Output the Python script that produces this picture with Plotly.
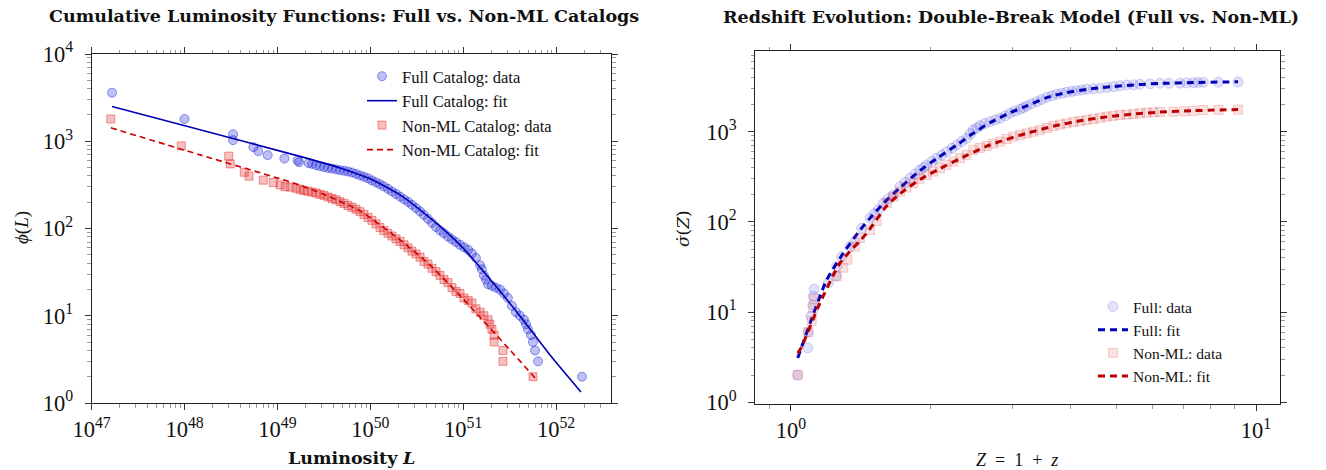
import plotly.graph_objects as go

# ---------------- Left panel data (cumulative luminosity functions) ----------------
full_L = [1.66e47, 1.0e48, 3.33e48, 3.33e48, 5.51e48, 6.22e48, 7.86e48, 1.19e49, 1.65e49, 1.71e49, 2.17e49,
          2.36e49, 2.61e49, 2.87e49, 3.18e49, 3.51e49, 3.87e49, 4.28e49, 4.72e49, 5.21e49, 5.75e49,
          6.35e49, 7.02e49, 7.75e49, 8.55e49, 9.45e49, 1.04e50, 1.15e50, 1.27e50, 1.40e50, 1.55e50,
          1.71e50, 1.89e50, 2.09e50, 2.31e50, 2.55e50, 2.81e50, 3.10e50, 3.43e50, 3.78e50, 4.18e50,
          4.61e50, 5.10e50, 5.63e50, 6.21e50, 6.86e50, 7.57e50, 8.36e50, 9.24e50, 1.02e51, 1.13e51,
          1.24e51, 1.37e51, 1.52e51,
          1.59e51, 1.67e51, 1.76e51, 1.85e51, 2.04e51, 2.25e51, 2.49e51, 2.75e51, 3.03e51, 3.35e51,
          3.70e51, 4.08e51, 4.51e51, 4.74e51, 4.98e51, 5.37e51, 5.64e51, 5.93e51, 6.39e51, 1.90e52]
full_phi = [3600, 1800, 1200, 1030, 856, 770, 693, 634, 601, 576, 561,
            550, 532, 518, 506, 495, 486, 476, 466, 458, 450,
            438, 423, 406, 391, 376, 356, 338, 321, 304, 285,
            266, 249, 232, 216, 202, 187, 172, 157, 143, 129,
            116, 104, 95, 88, 81, 75, 70, 65, 61, 57,
            52, 46, 38,
            34, 29, 26, 23, 22, 21, 20, 18, 16, 13,
            11, 10, 9, 8, 7, 6, 5, 4, 3, 2]

nonml_L = [1.61e47, 9.24e47, 2.99e48, 3.11e48, 4.40e48, 4.95e48, 7.05e48, 9.04e48, 1.07e49, 1.21e49, 1.37e49,
           1.58e49, 1.75e49, 1.93e49, 2.13e49, 2.36e49, 2.61e49, 2.87e49, 3.18e49, 3.51e49, 3.87e49,
           4.28e49, 4.72e49, 5.21e49, 5.75e49, 6.35e49, 7.02e49, 7.75e49, 8.55e49, 9.45e49, 1.04e50,
           1.15e50, 1.27e50, 1.40e50, 1.55e50, 1.71e50, 1.89e50, 2.09e50, 2.31e50, 2.55e50, 2.81e50,
           3.10e50, 3.43e50, 3.78e50, 4.18e50, 4.61e50, 5.10e50, 5.63e50, 6.21e50, 6.86e50, 7.57e50,
           8.36e50, 9.24e50, 1.02e51, 1.13e51, 1.24e51, 1.37e51, 1.52e51, 1.67e51, 1.85e51,
           1.94e51, 2.04e51, 2.15e51, 2.15e51, 2.68e51, 2.68e51, 5.64e51]
nonml_phi = [1800, 885, 675, 550, 442, 398, 358, 336, 316, 302, 298,
             290, 281, 273, 268, 261, 255, 246, 240, 230, 221,
             213, 203, 194, 184, 175, 166, 156, 145, 134, 124,
             113, 103, 95, 88, 82, 76, 71, 65, 60, 55,
             51, 47, 42, 39, 35, 32, 29, 26, 24, 21,
             19, 18, 16, 15, 14, 12, 11, 10, 9,
             8, 7, 6, 5, 4, 3, 2]

full_fit_L = [1.66e47, 1.47e48, 1.75e49, 4.72e49, 9.93e49, 2.09e50, 4.39e50, 9.24e50, 1.94e51, 4.08e51, 8.60e51, 1.85e52]
full_fit_phi = [2500, 1352, 671, 495, 371, 243, 132, 64.9, 26.4, 9.95, 3.55, 1.34]
nonml_fit_L = [1.61e47, 1.47e48, 1.58e49, 3.68e49, 7.75e49, 2.09e50, 4.39e50, 9.95e50, 1.94e51, 3.19e51, 5.93e51]
nonml_fit_phi = [1425, 698, 325, 230, 159, 74, 38.3, 15.6, 7.25, 4.05, 1.94]

# ---------------- Right panel data (redshift evolution) ----------------
full_Z = [1.034, 1.086, 1.089, 1.104, 1.114, 1.117, 1.122, 1.203, 1.250, 1.254, 1.285, 1.339, 1.373, 1.419,
          1.479, 1.51, 1.541, 1.579, 1.62, 1.660, 1.716, 1.76, 1.803, 1.85, 1.894, 1.93, 1.958, 2.01,
          2.058, 2.11, 2.162, 2.22, 2.272, 2.33, 2.387, 2.43, 2.466, 2.51, 2.550, 2.61, 2.679, 2.75,
          2.816, 2.89, 2.958, 3.03, 3.109, 3.16, 3.213, 3.29, 3.377, 3.46, 3.548, 3.64, 3.728, 3.82,
          3.917, 4.02, 4.116, 4.22, 4.324, 4.47, 4.619, 4.78, 4.933, 5.10, 5.272, 5.45, 5.630, 5.92,
          6.217, 6.5, 6.865, 7.1, 7.333, 7.5, 7.704, 8.3, 9.15]
full_sig = [2, 4, 6, 9, 12, 15, 18, 21, 25, 32, 41, 53, 60, 85,
            110, 123, 136, 161, 180, 199, 246, 275, 304, 340, 376, 400, 428, 470,
            507, 550, 600, 655, 712, 780, 845, 950, 1045, 1100, 1166, 1230, 1291, 1350,
            1408, 1500, 1600, 1690, 1772, 1850, 1928, 2040, 2152, 2280, 2405, 2500, 2600, 2670,
            2735, 2800, 2850, 2900, 2951, 2990, 3028, 3090, 3155, 3230, 3296, 3320, 3352, 3400,
            3441, 3445, 3450, 3470, 3494, 3510, 3530, 3540, 3550]

nonml_Z = [1.034, 1.089, 1.108, 1.117, 1.121, 1.254, 1.296, 1.322, 1.373, 1.407, 1.479, 1.529, 1.606, 1.66,
           1.716, 1.77, 1.832, 1.89, 1.958, 2.02, 2.092, 2.16, 2.234, 2.31, 2.387, 2.466, 2.55, 2.636,
           2.72, 2.816, 2.91, 3.006, 3.11, 3.213, 3.32, 3.431, 3.55, 3.665, 3.79, 3.917, 4.05, 4.183,
           4.32, 4.467, 4.62, 4.774, 4.93, 5.099, 5.27, 5.447, 5.63, 5.821, 6.02, 6.217, 6.641, 7.0,
           7.333, 7.704, 8.3, 9.15]
nonml_sig = [2, 6, 8, 11, 14, 25, 31, 38, 53, 66, 81, 102, 161, 190,
             216, 240, 268, 300, 331, 360, 393, 430, 465, 510, 552, 627, 660, 694,
             735, 775, 830, 880, 920, 960, 1000, 1045, 1100, 1157, 1200, 1239, 1280, 1315,
             1350, 1383, 1425, 1467, 1500, 1532, 1550, 1571, 1600, 1625, 1640, 1653, 1667, 1680,
             1696, 1741, 1745, 1750]

full_fit_Z = [1.034, 1.099, 1.193, 1.296, 1.40, 1.479, 1.58, 1.716, 1.894, 2.058, 2.272, 2.466, 2.679,
              2.958, 3.213, 3.548, 3.917, 4.324, 4.933, 5.630, 6.217, 7.333, 9.15]
full_fit_sig = [3.1, 7.5, 22.7, 45, 78, 110, 160, 240, 370, 505, 712, 960, 1260,
                1620, 1930, 2390, 2720, 2950, 3170, 3340, 3430, 3510, 3580]
nonml_fit_Z = [1.034, 1.054, 1.145, 1.274, 1.455, 1.606, 1.716, 1.894, 2.092, 2.387, 2.636, 2.816, 3.213,
               3.665, 4.183, 4.774, 5.447, 6.217, 7.333, 9.15]
nonml_fit_sig = [3.5, 4.1, 11.5, 34.8, 75, 150, 205, 295, 390, 545, 690, 780, 960,
                 1150, 1320, 1460, 1570, 1650, 1710, 1760]

# ---------------- Tick labels ----------------
left_x_tickvals = [1e47, 1e48, 1e49, 1e50, 1e51, 1e52]
left_x_ticktext = ["10<sup>47</sup>", "10<sup>48</sup>", "10<sup>49</sup>", "10<sup>50</sup>",
                   "10<sup>51</sup>", "10<sup>52</sup>"]
left_y_tickvals = [1, 10, 100, 1000, 10000]
left_y_ticktext = ["10<sup>0</sup>", "10<sup>1</sup>", "10<sup>2</sup>", "10<sup>3</sup>", "10<sup>4</sup>"]
right_x_tickvals = [1, 10]
right_x_ticktext = ["10<sup>0</sup>", "10<sup>1</sup>"]
right_y_tickvals = [1, 10, 100, 1000]
right_y_ticktext = ["10<sup>0</sup>", "10<sup>1</sup>", "10<sup>2</sup>", "10<sup>3</sup>"]

FONT = "Liberation Serif"
BFONT = "DejaVu Serif"
W, H = 1326, 470

fig = go.Figure()

# Left panel traces
fig.add_trace(go.Scatter(x=full_L, y=full_phi, mode="markers", name="Full Catalog: data",
                         marker=dict(symbol="circle", size=9, color="rgba(20,30,215,0.28)",
                                     line=dict(color="rgba(20,30,215,0.45)", width=1)),
                         xaxis="x", yaxis="y", legend="legend"))
fig.add_trace(go.Scatter(x=full_fit_L, y=full_fit_phi, mode="lines", name="Full Catalog: fit",
                         line=dict(color="#0000b4", width=1.6, shape="spline", smoothing=0.6),
                         xaxis="x", yaxis="y", legend="legend"))
fig.add_trace(go.Scatter(x=nonml_L, y=nonml_phi, mode="markers", name="Non-ML Catalog: data",
                         marker=dict(symbol="square", size=8, color="rgba(225,30,30,0.28)",
                                     line=dict(color="rgba(225,30,30,0.45)", width=1)),
                         xaxis="x", yaxis="y", legend="legend"))
fig.add_trace(go.Scatter(x=nonml_fit_L, y=nonml_fit_phi, mode="lines", name="Non-ML Catalog: fit",
                         line=dict(color="#cc0000", width=1.6, dash="6px,4px", shape="spline", smoothing=0.6),
                         xaxis="x", yaxis="y", legend="legend"))

# Right panel traces
fig.add_trace(go.Scatter(x=full_Z, y=full_sig, mode="markers", name="Full: data",
                         marker=dict(symbol="circle", size=10, color="rgba(60,60,220,0.15)",
                                     line=dict(color="rgba(60,60,220,0.22)", width=1)),
                         xaxis="x2", yaxis="y2", legend="legend2"))
fig.add_trace(go.Scatter(x=full_fit_Z, y=full_fit_sig, mode="lines", name="Full: fit",
                         line=dict(color="#0000bb", width=3, dash="7px,5px", shape="spline", smoothing=0.6),
                         xaxis="x2", yaxis="y2", legend="legend2"))
fig.add_trace(go.Scatter(x=nonml_Z, y=nonml_sig, mode="markers", name="Non-ML: data",
                         marker=dict(symbol="square", size=9, color="rgba(225,60,60,0.15)",
                                     line=dict(color="rgba(225,60,60,0.22)", width=1)),
                         xaxis="x2", yaxis="y2", legend="legend2"))
fig.add_trace(go.Scatter(x=nonml_fit_Z, y=nonml_fit_sig, mode="lines", name="Non-ML: fit",
                         line=dict(color="#bb0000", width=3, dash="7px,5px", shape="spline", smoothing=0.6),
                         xaxis="x2", yaxis="y2", legend="legend2"))


def minor_vals(e0, e1, lo, hi):
    vals = []
    for e in range(e0, e1 + 1):
        for m in range(2, 10):
            v = m * 10.0 ** e
            if lo <= v <= hi:
                vals.append(v)
    return vals


def axis(domain, rng, tickvals, ticktext, minors, anchor, standoff):
    return dict(type="log", domain=domain, range=rng, anchor=anchor, automargin=False,
                showline=True, linecolor="#222", linewidth=1, mirror="allticks",
                ticks="outside", ticklen=6, tickwidth=1, tickcolor="#333",
                tickmode="array", tickvals=tickvals, ticktext=ticktext,
                ticklabelstandoff=standoff,
                tickfont=dict(family=FONT, size=22.5, color="#111"),
                minor=dict(tickmode="array", tickvals=minors, ticks="outside", ticklen=3.5,
                           tickwidth=1, tickcolor="#999", showgrid=False),
                showgrid=False, zeroline=False)


lx0, lx1 = 91.6, 611.0
ly0, ly1 = 54.0, 403.0
rx0, rx1 = 755.0, 1280.0
ry0, ry1 = 51.0, 404.0

fig.update_layout(
    width=W, height=H, margin=dict(l=0, r=0, t=0, b=0, autoexpand=False),
    paper_bgcolor="white", plot_bgcolor="white",
    font=dict(family=FONT, color="#111"),
    xaxis=axis([lx0 / W, lx1 / W], [47, 52.591], left_x_tickvals, left_x_ticktext,
               minor_vals(47, 52, 1e47, 3.9e52), "y", 0),
    yaxis=axis([(H - ly1) / H, (H - ly0) / H], [0, 4], left_y_tickvals, left_y_ticktext,
               minor_vals(0, 3, 1, 1e4), "x", 7),
    xaxis2=axis([rx0 / W, rx1 / W], [-0.0774, 1.0516], right_x_tickvals, right_x_ticktext,
                [0.9] + minor_vals(0, 0, 1, 11), "y2", 0),
    yaxis2=axis([(H - ry1) / H, (H - ry0) / H], [-0.02, 3.895], right_y_tickvals, right_y_ticktext,
                minor_vals(0, 3, 1, 7800), "x2", 7),
    legend=dict(x=362 / W, y=(H - 59) / H, xanchor="left", yanchor="top",
                bgcolor="rgba(255,255,255,0)", font=dict(family=FONT, size=16.5, color="#111")),
    legend2=dict(x=1093 / W, y=(H - 290) / H, xanchor="left", yanchor="top",
                 bgcolor="rgba(255,255,255,0)", font=dict(family=FONT, size=15.5, color="#111")),
    showlegend=True,
)

annotations = [
    dict(text="<b>Cumulative Luminosity Functions: Full vs. Non-ML Catalogs</b>", x=344 / W, y=(H - 16) / H,
         font=dict(family=BFONT, size=17.5)),
    dict(text="<b>Redshift Evolution: Double-Break Model (Full vs. Non-ML)</b>", x=1011 / W, y=(H - 17) / H,
         font=dict(family=BFONT, size=17.5)),
    dict(text="<b>Luminosity</b> <b><i>L</i></b>", x=351 / W, y=(H - 458) / H,
         font=dict(family=BFONT, size=17.5)),
    dict(text="<i>Z</i>\u00a0\u00a0=\u00a0\u00a01\u00a0\u00a0+\u00a0\u00a0<i>z</i>", x=1017 / W, y=(H - 460) / H,
         font=dict(family=FONT, size=18)),
    dict(text="<i>ϕ</i>(<i>L</i>)", x=22 / W, y=(H - 228) / H, textangle=-90,
         font=dict(family=FONT, size=19)),
    dict(text="<i>σ\u0307</i>(<i>Z</i>)", x=683 / W, y=(H - 228) / H, textangle=-90,
         font=dict(family=BFONT, size=17)),
]
for a in annotations:
    a.update(xref="paper", yref="paper", showarrow=False, xanchor="center", yanchor="middle")
fig.update_layout(annotations=annotations)

fig.write_html("out.html")
